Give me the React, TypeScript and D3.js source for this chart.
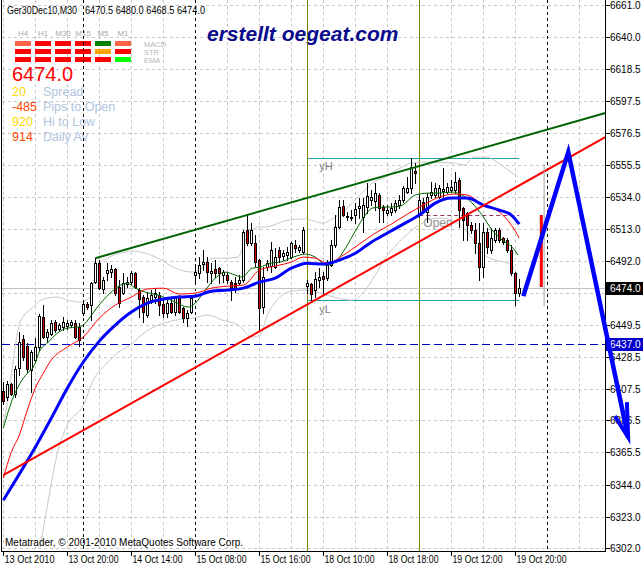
import React from "react";
import * as d3 from "d3";

const W = 643;
const H = 568;

// ---------- data ----------
const timeLabels = ["13 Oct 2010", "13 Oct 20:00", "14 Oct 14:00", "15 Oct 08:00", "15 Oct 16:00", "18 Oct 10:00", "18 Oct 18:00", "19 Oct 12:00", "19 Oct 20:00"];
const priceTicks = [6661.0, 6640.0, 6618.5, 6597.5, 6576.5, 6555.5, 6534.0, 6513.0, 6492.0, 6471.0, 6449.5, 6428.5, 6407.5, 6386.5, 6365.5, 6344.0, 6323.0, 6302.0];

const opens = [
  6405.9, 6401.9, 6410.5, 6403.9, 6421.1, 6440.3, 6435.6, 6419.8, 6426.4, 6435.0,
  6454.8, 6441.6, 6443.6, 6451.5, 6446.9, 6448.2, 6448.8, 6449.5, 6450.8, 6448.2,
  6457.4, 6463.4, 6462.7, 6477.9, 6490.4, 6473.3, 6483.8, 6484.5, 6486.5, 6474.6,
  6470.6, 6476.6, 6477.9, 6483.8, 6472.6, 6468.0, 6456.1, 6466.0, 6468.0, 6469.3,
  6463.4, 6457.4, 6464.0, 6458.1, 6467.3, 6460.7, 6454.1, 6458.1, 6482.5, 6483.8,
  6489.8, 6491.1, 6483.8, 6486.5, 6487.1, 6482.5, 6482.5, 6477.9, 6477.2, 6477.2,
  6479.2, 6512.3, 6503.7, 6503.7, 6492.4, 6461.4, 6487.8, 6488.5, 6487.8, 6499.0,
  6495.1, 6495.7, 6494.4, 6502.4, 6499.0, 6497.7, 6475.2, 6476.6, 6472.6, 6479.2,
  6481.8, 6480.5, 6489.1, 6502.4, 6514.3, 6528.1, 6520.9, 6520.2, 6522.2, 6526.8,
  6520.9, 6527.5, 6532.1, 6531.4, 6535.4, 6527.5, 6523.5, 6524.2, 6525.5, 6528.8,
  6532.1, 6537.4, 6540.0, 6551.3, 6522.5, 6530.8, 6524.2, 6535.4, 6535.4, 6534.1,
  6538.0, 6537.4, 6538.7, 6538.7, 6545.3, 6526.8, 6523.5, 6515.6, 6512.3, 6503.7,
  6487.8, 6510.9, 6499.0, 6505.7, 6512.3, 6507.0, 6505.7, 6499.0, 6483.8, 6470.5,
];
const highs = [
  6411.8, 6412.5, 6411.1, 6422.4, 6444.9, 6442.9, 6437.6, 6433.0, 6440.9, 6456.8,
  6462.7, 6446.9, 6452.8, 6452.8, 6450.8, 6454.8, 6452.8, 6452.8, 6452.8, 6450.8,
  6466.0, 6464.7, 6477.9, 6493.7, 6492.4, 6481.2, 6490.4, 6489.1, 6487.1, 6479.2,
  6483.8, 6481.2, 6485.2, 6484.5, 6473.9, 6469.3, 6471.3, 6472.6, 6473.3, 6471.3,
  6466.0, 6466.0, 6467.3, 6468.0, 6469.3, 6461.4, 6459.4, 6468.0, 6487.8, 6494.4,
  6499.0, 6494.4, 6490.4, 6492.4, 6487.8, 6485.8, 6483.8, 6479.2, 6481.2, 6482.5,
  6512.3, 6522.2, 6516.9, 6509.0, 6493.1, 6487.8, 6492.4, 6504.3, 6500.4, 6501.0,
  6499.0, 6501.0, 6504.3, 6505.7, 6502.4, 6514.3, 6479.2, 6477.2, 6484.5, 6487.1,
  6484.5, 6492.4, 6505.7, 6522.2, 6532.1, 6532.1, 6524.2, 6525.5, 6530.1, 6533.4,
  6533.4, 6543.3, 6538.7, 6543.3, 6536.7, 6528.8, 6528.8, 6530.1, 6532.1, 6535.4,
  6541.3, 6547.3, 6559.9, 6556.6, 6535.4, 6533.4, 6536.7, 6543.9, 6543.3, 6542.0,
  6553.3, 6543.3, 6545.3, 6550.6, 6546.6, 6527.5, 6524.2, 6517.6, 6516.9, 6516.9,
  6516.9, 6513.6, 6513.6, 6513.6, 6513.6, 6507.6, 6507.0, 6502.4, 6484.5, 6480.0,
];
const lows = [
  6397.3, 6399.9, 6403.2, 6401.9, 6416.5, 6426.4, 6418.4, 6405.2, 6425.1, 6433.0,
  6440.9, 6438.3, 6442.9, 6444.9, 6445.5, 6446.2, 6446.9, 6448.2, 6440.9, 6435.6,
  6456.1, 6460.1, 6452.8, 6477.2, 6473.3, 6470.6, 6479.2, 6481.2, 6469.3, 6461.4,
  6470.0, 6474.6, 6476.6, 6473.9, 6454.8, 6451.5, 6454.8, 6464.0, 6464.0, 6456.1,
  6454.8, 6454.8, 6457.4, 6456.1, 6457.4, 6451.5, 6448.8, 6457.4, 6477.2, 6480.5,
  6485.8, 6477.9, 6477.2, 6481.2, 6477.2, 6477.9, 6477.2, 6466.0, 6471.3, 6476.6,
  6477.9, 6502.4, 6502.4, 6488.5, 6446.2, 6457.4, 6485.8, 6484.5, 6487.1, 6491.1,
  6492.4, 6492.4, 6493.7, 6497.7, 6497.7, 6497.0, 6470.6, 6466.0, 6468.0, 6474.6,
  6470.6, 6479.2, 6488.5, 6501.0, 6513.6, 6521.5, 6518.9, 6518.9, 6516.9, 6520.2,
  6510.9, 6523.5, 6528.8, 6525.5, 6517.6, 6517.6, 6522.2, 6522.2, 6524.2, 6526.8,
  6530.8, 6536.7, 6536.7, 6543.3, 6520.9, 6523.5, 6517.6, 6533.4, 6534.1, 6533.4,
  6534.1, 6536.7, 6537.4, 6536.7, 6514.3, 6505.7, 6505.7, 6510.3, 6497.0, 6479.2,
  6481.2, 6497.0, 6497.0, 6504.3, 6504.3, 6503.0, 6497.7, 6482.5, 6462.7, 6468.5,
];
const closes = [
  6399.3, 6410.5, 6403.9, 6420.4, 6438.3, 6428.4, 6420.4, 6431.7, 6435.0, 6455.4,
  6441.6, 6444.9, 6450.8, 6446.2, 6449.5, 6451.5, 6450.8, 6451.5, 6441.6, 6439.6,
  6463.4, 6461.4, 6477.2, 6490.4, 6473.9, 6479.2, 6485.8, 6486.5, 6470.6, 6464.0,
  6477.2, 6477.9, 6483.8, 6474.6, 6466.7, 6458.1, 6467.3, 6469.3, 6470.6, 6462.7,
  6457.4, 6464.0, 6458.1, 6467.3, 6458.1, 6454.1, 6457.4, 6467.3, 6484.5, 6489.1,
  6491.1, 6484.5, 6485.2, 6483.8, 6483.8, 6484.5, 6479.2, 6473.9, 6473.9, 6479.2,
  6510.9, 6503.7, 6512.3, 6491.1, 6460.7, 6481.2, 6490.4, 6499.0, 6494.4, 6494.4,
  6497.0, 6497.7, 6503.7, 6500.4, 6501.0, 6512.3, 6477.2, 6470.0, 6479.9, 6481.2,
  6479.9, 6489.1, 6502.4, 6514.3, 6527.5, 6522.2, 6521.5, 6520.9, 6526.2, 6528.1,
  6528.8, 6534.7, 6534.1, 6536.7, 6526.8, 6525.5, 6525.5, 6526.8, 6530.1, 6532.1,
  6540.0, 6540.0, 6553.9, 6549.9, 6532.1, 6524.2, 6534.1, 6537.4, 6540.0, 6540.0,
  6539.4, 6540.7, 6540.7, 6543.9, 6525.5, 6518.9, 6515.6, 6512.3, 6503.7, 6487.8,
  6510.9, 6501.0, 6507.0, 6512.3, 6505.7, 6504.3, 6499.0, 6483.8, 6470.6, 6474.0,
];

// indicator readings: [bar index, price]
const slowEma: [number, number][] = [
  [0, 6333.8], [4, 6351.0], [8, 6368.8], [12, 6388.0], [16, 6407.8], [20, 6425.1], [24, 6438.9], [28, 6449.5],
  [32, 6458.1], [36, 6464.0], [40, 6466.7], [44, 6468.0], [48, 6468.6], [52, 6471.9], [56, 6472.6], [60, 6473.9],
  [64, 6477.9], [68, 6480.5], [72, 6487.1], [76, 6490.4], [80, 6489.8], [84, 6492.4], [88, 6497.0], [92, 6504.3],
  [96, 6510.3], [100, 6516.2], [104, 6522.2], [108, 6530.1], [112, 6533.4], [116, 6533.4], [120, 6528.8],
  [124, 6525.5], [127, 6522.2], [129, 6516.2],
];
const midEma: [number, number][] = [
  [0, 6348.3], [2, 6365.5], [4, 6376.8], [6, 6393.3], [8, 6407.8], [10, 6417.7], [12, 6426.4], [16, 6435.0],
  [20, 6441.6], [24, 6454.1], [28, 6462.7], [32, 6468.0], [36, 6473.3], [40, 6473.9], [44, 6470.0], [48, 6470.6],
  [52, 6473.9], [56, 6475.2], [60, 6475.9], [64, 6485.8], [68, 6488.5], [72, 6491.1], [75, 6494.4], [78, 6493.7],
  [81, 6490.4], [85, 6495.7], [89, 6503.0], [93, 6510.3], [97, 6516.2], [101, 6522.8], [105, 6528.8], [109, 6534.1],
  [113, 6536.1], [116, 6535.4], [120, 6528.8], [124, 6524.2], [127, 6515.6], [129, 6507.0],
];
const fastEma: [number, number][] = [
  [0, 6381.4], [2.5, 6401.9], [4.2, 6411.1], [6, 6417.7], [7.5, 6421.7], [9.2, 6433.0], [11, 6437.6], [13.5, 6444.2],
  [16, 6447.5], [18.5, 6448.2], [20, 6449.5], [21.7, 6454.8], [23.5, 6461.4], [25, 6466.0], [26.7, 6470.6],
  [28.5, 6474.6], [31, 6477.2], [33, 6473.9], [35.5, 6471.3], [38.7, 6469.3], [43, 6464.7], [46.2, 6461.4],
  [48, 6464.0], [50.5, 6472.6], [53, 6480.5], [55.5, 6484.5], [58, 6482.5], [59.7, 6481.2], [62.2, 6487.1],
  [64.2, 6487.8], [66.7, 6490.4], [69.2, 6491.1], [72.5, 6494.4], [75.5, 6496.4], [78, 6494.4], [80.7, 6489.1],
  [83.2, 6491.8], [85.7, 6501.0], [88, 6511.6], [90.5, 6522.2], [92.2, 6526.8], [94.7, 6527.5], [96.7, 6527.5],
  [99.2, 6528.1], [103, 6535.4], [106.2, 6536.7], [108.7, 6536.7], [112.2, 6537.4], [114.7, 6535.4], [117.2, 6530.1],
  [119.7, 6522.2], [122.2, 6512.3], [124.7, 6505.7], [127.2, 6501.0], [128.7, 6495.7],
];
const bandUpper: [number, number][] = [
  [0, 6383.4], [1.2, 6401.2], [2.5, 6426.4], [4.2, 6451.5], [7.5, 6461.4], [10, 6466.7], [13.5, 6468.0], [16, 6466.0],
  [19.2, 6464.7], [21.7, 6468.0], [23.5, 6488.5], [26, 6493.7], [29.2, 6497.0], [32, 6498.4], [35.5, 6497.0],
  [38.7, 6493.7], [43, 6487.1], [47.2, 6484.5], [49.7, 6487.1], [52.2, 6493.7], [55.5, 6493.7], [58.7, 6494.4],
  [60.5, 6505.7], [63.7, 6514.3], [65.5, 6514.3], [71.2, 6518.9], [75.5, 6519.6], [79.7, 6516.9], [83, 6520.9],
  [86.2, 6527.5], [89.7, 6536.7], [92.2, 6543.3], [95.5, 6547.3], [99.2, 6553.3], [102.2, 6556.6], [105.5, 6557.2],
  [112.2, 6556.6], [115.5, 6555.3], [117.5, 6560.5], [121, 6560.5], [123, 6557.9], [125.5, 6553.3], [128.7, 6547.3],
];
const bandLower: [number, number][] = [
  [9.2, 6302.1], [11.7, 6340.4], [13.7, 6366.9], [16, 6383.4], [20, 6396.6], [22.5, 6413.2], [26, 6424.4],
  [28.5, 6431.0], [31.7, 6436.3], [35.5, 6444.9], [43, 6452.8], [47.2, 6454.1], [51.2, 6456.1], [54.7, 6452.8],
  [58.7, 6449.5], [62.2, 6441.6], [64.2, 6442.9], [66, 6456.1], [68, 6464.7], [71.2, 6471.3], [75.5, 6472.6],
  [79.2, 6470.6], [83.7, 6467.3], [87.2, 6466.0], [90.5, 6472.6], [93, 6482.5], [95.5, 6493.7], [98.7, 6503.7],
  [102.2, 6512.3], [104.7, 6516.9], [108.7, 6520.2], [112.2, 6518.9], [116.2, 6510.3], [119.7, 6497.0],
  [123, 6492.4], [126.2, 6490.4], [128.7, 6482.5],
];

const greenTrend: [number, number][] = [[23, 6493.7], [150.5, 6589.6]];
const redTrend: [number, number][] = [[0, 6350.3], [150.5, 6573.7]];
const forecastPath: [number, number][] = [[130, 6468.6], [141.25, 6563.8], [156.2, 6375.4]];
const forecastHead: [number, number][] = [[152.9, 6389.3], [156.2, 6375.4], [155.9, 6398.6]];
const forecastBar: [number, number][] = [[134.5, 6522.2], [134.5, 6474.6]];
const forecastWick: [number, number][] = [[135.2, 6555.9], [135.2, 6462.0]];

const yHigh = 6559.9;
const yLow = 6466.0;
const dayOpen = 6522.5;
const bidPrice = 6474.0;
const levelLine = 6437.0;
const levelStart = 76;
const openStart = 104;
const lastBar = 129;
const blackSeps = [20, 48, 136];
const oliveSeps = [76, 104];

const symbolText = "Ger30Dec10,M30";
const ohlcText = "6470.5 6480.0 6468.5 6474.0";
const tfLabels = ["H4", "H1", "M30", "M15", "M5", "M1"];
const rowLabels = ["MACD", "STR", "EMA"];
const signalColors = [
  ["#ff6347", "#ff0000", "#ff0000", "#ff0000", "#008000", "#ff6347"],
  ["#ff0000", "#ff0000", "#ff0000", "#ff0000", "#ffa500", "#ff0000"],
  ["#ff0000", "#ff0000", "#ff0000", "#ff0000", "#ff0000", "#00ff00"],
];
const infoValues = ["20", "-485", "920", "914"];
const infoNames = ["Spread", "Pips to Open", "Hi to Low", "Daily Av"];
const infoColors = ["#ffd700", "#ff4500", "#ffd700", "#ff4500"];

// ---------- component ----------
export default function App() {
  const x = d3.scaleLinear().domain([0, 150]).range([3.3, 603.3]);
  const y = d3.scaleLinear().domain([6302, 6661]).range([548.3, 5]);
  const AX = 605.5; // right axis
  const BOT = 551.5;
  const font = "'Liberation Sans', Arial, sans-serif";

  const curve = d3.line<[number, number]>().x((d) => x(d[0])).y((d) => y(d[1])).curve(d3.curveMonotoneX);
  const straight = d3.line<[number, number]>().x((d) => x(d[0])).y((d) => y(d[1]));

  const vGrid = d3.range(0, 150, 8);
  const candles = opens.map((o, i) => ({ i, o, h: highs[i], l: lows[i], c: closes[i] }));

  return (
    <svg width={W} height={H} style={{ position: "absolute", left: 0, top: 0, background: "#fff" }} fontFamily={font}>
      <defs>
        <clipPath id="plot">
          <rect x={2} y={0} width={603.5} height={551} />
        </clipPath>
      </defs>
      <rect x={0} y={0} width={W} height={H} fill="#fff" />

      {/* grid */}
      <g stroke="#c8c8c8" strokeDasharray="3,3" shapeRendering="crispEdges">
        {priceTicks.map((t) => (
          <line key={"h" + t} x1={2} x2={AX} y1={Math.round(y(t)) + 0.5} y2={Math.round(y(t)) + 0.5} />
        ))}
        {vGrid.map((i) => (
          <line key={"v" + i} x1={Math.round(x(i)) + 0.5} x2={Math.round(x(i)) + 0.5} y1={0} y2={BOT} />
        ))}
      </g>

      {/* info panel */}
      <text x={7} y={14} fontSize={10} fill="#000" textLength={70} lengthAdjust="spacingAndGlyphs">{symbolText}</text>
      <text x={85} y={14} fontSize={10} fill="#000" textLength={120} lengthAdjust="spacingAndGlyphs">{ohlcText}</text>
      {tfLabels.map((l, k) => (
        <text key={l} x={23 + 20 * k} y={36} fontSize={8} fill="#a8a8a8" textAnchor="middle">{l}</text>
      ))}
      {signalColors.map((row, r) =>
        row.map((c, k) => <rect key={r + "-" + k} x={15 + 20 * k} y={41 + 8 * r} width={16} height={5} fill={c} />)
      )}
      {rowLabels.map((l, r) => (
        <text key={l} x={144} y={46.5 + 8 * r} fontSize={7.5} fill="#b4b4b4">{l}</text>
      ))}
      <text x={12} y={81} fontSize={20} fill="#ff0000">{bidPrice.toFixed(1)}</text>
      {infoValues.map((v, k) => (
        <g key={v}>
          <text x={12} y={96 + 15 * k} fontSize={12.5} fill={infoColors[k]}>{v}</text>
          <text x={43} y={96 + 15 * k} fontSize={12.5} fill="#b0c4de">{infoNames[k]}</text>
        </g>
      ))}

      <text x={207} y={41} fontSize={21} fontWeight="bold" fontStyle="italic" fill="#0a0a8c">erstellt oegeat.com</text>

      <g clipPath="url(#plot)">
        {/* separators */}
        {blackSeps.map((i) => (
          <line key={"b" + i} x1={Math.round(x(i)) + 0.5} x2={Math.round(x(i)) + 0.5} y1={0} y2={BOT} stroke="#000" strokeDasharray="3,3" />
        ))}
        {oliveSeps.map((i) => (
          <line key={"o" + i} x1={Math.round(x(i)) + 0.5} x2={Math.round(x(i)) + 0.5} y1={0} y2={BOT} stroke="#808000" />
        ))}

        {/* bid & level lines */}
        <line x1={2} x2={AX} y1={Math.round(y(bidPrice)) + 0.5} y2={Math.round(y(bidPrice)) + 0.5} stroke="#c0c0c0" />
        <line x1={2} x2={AX} y1={Math.round(y(levelLine)) + 0.5} y2={Math.round(y(levelLine)) + 0.5} stroke="#0000cd" strokeDasharray="8,4" />

        {/* day levels */}
        <text x={x(levelStart) + 12} y={Math.round(y(yHigh)) + 12} fontSize={11} fill="#808080">yH</text>
        <text x={x(levelStart) + 12} y={Math.round(y(yLow)) + 13} fontSize={11} fill="#808080">yL</text>
        <text x={x(openStart) + 4} y={Math.round(y(dayOpen)) + 12} fontSize={12} fill="#909090">Open</text>
        <line x1={x(levelStart)} x2={x(lastBar)} y1={Math.round(y(yHigh)) + 0.5} y2={Math.round(y(yHigh)) + 0.5} stroke="#1fa0b0" />
        <line x1={x(levelStart)} x2={x(lastBar)} y1={Math.round(y(yLow)) + 0.5} y2={Math.round(y(yLow)) + 0.5} stroke="#1fa0b0" />
        <line x1={x(openStart)} x2={x(lastBar)} y1={Math.round(y(dayOpen)) + 0.5} y2={Math.round(y(dayOpen)) + 0.5} stroke="#993366" strokeDasharray="4,3" />

        {/* bands */}
        <path d={curve(bandUpper) || ""} fill="none" stroke="#c8c8c8" strokeWidth={1} />
        <path d={curve(bandLower) || ""} fill="none" stroke="#c8c8c8" strokeWidth={1} />

        {/* candles */}
        {candles.map((d) => {
          const cx = Math.round(x(d.i));
          const yt = Math.round(y(Math.max(d.o, d.c)));
          const yb = Math.round(y(Math.min(d.o, d.c)));
          const yh = Math.round(y(d.h));
          const yl = Math.round(y(d.l));
          const bull = d.c >= d.o;
          return (
            <g key={d.i} shapeRendering="crispEdges">
              <line x1={cx + 0.5} x2={cx + 0.5} y1={yh} y2={yl + 1} stroke="#000" />
              <rect x={cx - 0.5} y={yt + 0.5} width={2} height={Math.max(yb - yt, 1)} fill={bull ? "#fff" : "#d40000"} stroke="#000" />
            </g>
          );
        })}

        {/* moving averages */}
        <path d={curve(fastEma) || ""} fill="none" stroke="#006400" strokeWidth={1} />
        <path d={curve(midEma) || ""} fill="none" stroke="#ff0000" strokeWidth={1} />
        <path d={curve(slowEma) || ""} fill="none" stroke="#0000ff" strokeWidth={3} />

        {/* trend lines */}
        <path d={straight(greenTrend) || ""} fill="none" stroke="#006400" strokeWidth={2} />
        <path d={straight(redTrend) || ""} fill="none" stroke="#ff0000" strokeWidth={2} />

        {/* forecast bar */}
        <path d={straight(forecastWick) || ""} fill="none" stroke="#a0a0a0" strokeWidth={1} />
        <path d={straight(forecastBar) || ""} fill="none" stroke="#ff0000" strokeWidth={3} />
      </g>

      {/* frame */}
      <g stroke="#000" shapeRendering="crispEdges">
        <line x1={1.5} x2={1.5} y1={0} y2={BOT} />
        <line x1={1.5} x2={AX} y1={BOT} y2={BOT} />
        <line x1={AX} x2={AX} y1={0} y2={BOT} />
      </g>

      {/* right axis */}
      {priceTicks.map((t) => {
        const yy = Math.round(y(t)) + 0.5;
        const hidden = Math.abs(y(t) - y(bidPrice)) < 8;
        return (
          <g key={"t" + t}>
            <line x1={AX} x2={AX + 4} y1={yy} y2={yy} stroke="#000" shapeRendering="crispEdges" />
            {!hidden && <text x={610} y={yy + 3.5} fontSize={10} fill="#000">{t.toFixed(1)}</text>}
          </g>
        );
      })}
      <rect x={606} y={Math.round(y(bidPrice)) - 6} width={37} height={13} fill="#000" />
      <text x={610} y={Math.round(y(bidPrice)) + 4} fontSize={10} fill="#fff">{bidPrice.toFixed(1)}</text>
      <rect x={606} y={Math.round(y(levelLine)) - 6} width={37} height={13} fill="#0000cd" />
      <text x={610} y={Math.round(y(levelLine)) + 4} fontSize={10} fill="#fff">{levelLine.toFixed(1)}</text>

      {/* time axis */}
      {timeLabels.map((l, k) => {
        const xx = Math.round(x(k * 16)) + 0.5;
        return (
          <g key={l}>
            <line x1={xx} x2={xx} y1={BOT} y2={BOT + 4} stroke="#000" shapeRendering="crispEdges" />
            <text x={xx + 1} y={563} fontSize={10} fill="#000" textLength={50} lengthAdjust="spacingAndGlyphs">{l}</text>
          </g>
        );
      })}

      <text x={5} y={546} fontSize={10} fill="#000">Metatrader, © 2001-2010 MetaQuotes Software Corp.</text>

      {/* forecast arrow */}
      <path d={straight(forecastPath) || ""} fill="none" stroke="#0000ff" strokeWidth={4.5} strokeLinejoin="miter" />
      <path d={straight(forecastHead) || ""} fill="none" stroke="#0000ff" strokeWidth={4} />
    </svg>
  );
}
